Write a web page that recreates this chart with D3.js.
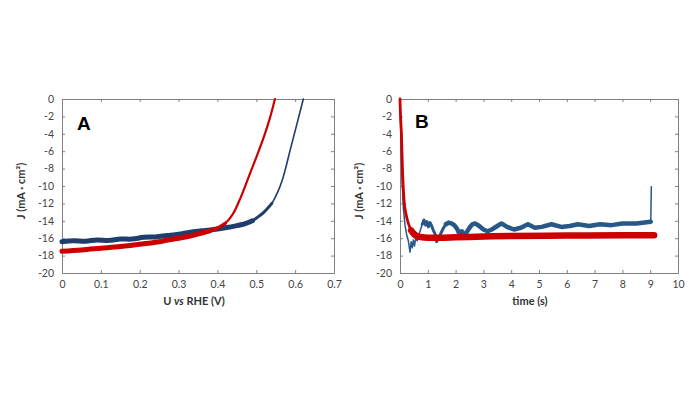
<!DOCTYPE html>
<html>
<head>
<meta charset="utf-8">
<script src="https://cdn.jsdelivr.net/npm/d3@7"></script>
<style>
  body { margin: 0; background: #fff; }
  svg { display: block; font-family: Lato, 'Liberation Sans', sans-serif; }
  .tick text { fill: #444; font-size: 10.5px; }
  .axis-title { font-weight: bold; font-size: 11px; fill: #333; }
  .panel-letter { font-weight: bold; font-size: 19px; font-family: 'Liberation Sans', Arial, sans-serif; }
</style>
</head>
<body>
<div id="chart"></div>
<script>
'use strict';

// panel A: J-V curves
var voltBlueA = [0, 0.03, 0.06, 0.09, 0.12, 0.15, 0.18, 0.21, 0.24, 0.27, 0.30, 0.33, 0.36, 0.39, 0.42, 0.45, 0.47, 0.49, 0.50, 0.52, 0.54, 0.555, 0.567, 0.577, 0.587, 0.598, 0.609, 0.621];
var jBlueA    = [-16.4, -16.3, -16.35, -16.2, -16.25, -16.1, -16.1, -15.9, -15.85, -15.7, -15.55, -15.3, -15.15, -15.0, -14.8, -14.55, -14.35, -14.0, -13.7, -13.0, -12.0, -10.7, -9.3, -7.7, -5.9, -4.0, -2.1, 0];
var voltRedA  = [0, 0.05, 0.10, 0.15, 0.20, 0.25, 0.30, 0.33, 0.36, 0.38, 0.40, 0.42, 0.44, 0.46, 0.48, 0.50, 0.52, 0.535, 0.548];
var jRedA     = [-17.5, -17.35, -17.15, -16.95, -16.7, -16.4, -16.0, -15.75, -15.4, -15.15, -14.85, -14.3, -13.2, -11.3, -9.0, -6.7, -4.3, -2.2, 0];

// panel B: chronoamperometry
var timeBlueB = [0, 0.03, 0.07, 0.12, 0.18, 0.24, 0.3, 0.36, 0.4, 0.44, 0.48, 0.52, 0.56, 0.62, 0.68, 0.74, 0.8, 0.86, 0.92, 0.97, 1.02, 1.08, 1.14, 1.2, 1.26, 1.32, 1.38, 1.45, 1.55, 1.65, 1.75, 1.85, 1.95, 2.05, 2.15, 2.22, 2.3, 2.4, 2.5, 2.6, 2.7, 2.85, 3.0, 3.15, 3.3, 3.5, 3.65, 3.85, 4.1, 4.35, 4.6, 4.85, 5.1, 5.45, 5.8, 6.1, 6.4, 6.8, 7.2, 7.6, 8.0, 8.5, 9.02, 9.04];
var jBlueB    = [0, -4, -9, -12.5, -14.5, -15.6, -16.3, -17.6, -16.4, -17.1, -16.2, -16.9, -16.1, -16.3, -15.6, -15.0, -14.4, -13.9, -14.5, -14.1, -14.7, -14.2, -14.6, -15.1, -15.5, -16.4, -16.0, -15.6, -14.9, -14.4, -14.2, -14.3, -14.5, -14.9, -15.6, -15.2, -15.6, -15.3, -14.8, -14.4, -14.3, -14.6, -15.0, -15.2, -15.0, -14.6, -14.3, -14.7, -15.0, -14.8, -14.4, -14.8, -14.7, -14.4, -14.7, -14.6, -14.4, -14.6, -14.4, -14.5, -14.3, -14.3, -14.1, -10.1];
var timeRedB  = [0, 0.02, 0.05, 0.1, 0.15, 0.2, 0.3, 0.4, 0.5, 0.6, 0.8, 1.0, 2.0, 3.0, 4.0, 6.0, 8.0, 9.14];
var jRedB     = [0, -2, -4, -9, -11.8, -13, -14.3, -15.1, -15.5, -15.75, -15.9, -15.95, -15.9, -15.8, -15.75, -15.7, -15.65, -15.65];

var yTicks = d3.range(-20, 1, 2);
var xTicksA = [0, 0.1, 0.2, 0.3, 0.4, 0.5, 0.6, 0.7];
var xTicksB = d3.range(0, 11, 1);

var blueA = '#1f3d6d', blueB = '#285888', red = '#cc0000', frame = '#808080';

var svg = d3.select('#chart').append('svg')
    .attr('width', 700)
    .attr('height', 394);

svg.append('rect').attr('width', 700).attr('height', 394).attr('fill', '#fff');

function toPoints(xs, ys) {
  return xs.map(function(v, i) { return {x: v, y: ys[i]}; });
}

function drawPanel(opt) {
  var x = d3.scaleLinear().domain(opt.xDomain).range([opt.left, opt.right]);
  var y = d3.scaleLinear().domain([-20, 0]).range([273, 99]);

  // frame with inner ticks on all four sides
  var axes = [
    {gen: d3.axisLeft(y).tickValues(yTicks).tickFormat(function(d) { return String(d); }), tr: 'translate(' + opt.left + ',0)'},
    {gen: d3.axisRight(y).tickValues(yTicks).tickFormat(''), tr: 'translate(' + opt.right + ',0)'},
    {gen: d3.axisBottom(x).tickValues(opt.xTicks).tickFormat(function(d) { return String(d); }), tr: 'translate(0,273)'},
    {gen: d3.axisTop(x).tickValues(opt.xTicks).tickFormat(''), tr: 'translate(0,99)'}
  ];
  axes.forEach(function(a) {
    var g = svg.append('g')
        .attr('transform', a.tr)
        .call(a.gen.tickSizeInner(-3).tickSizeOuter(0).tickPadding(8));
    g.select('.domain').attr('stroke', frame);
    g.selectAll('.tick line').attr('stroke', frame);
    g.selectAll('.tick text').attr('font-family', 'Lato, sans-serif');
  });

  opt.series.forEach(function(s) {
    var line = d3.line()
        .x(function(d) { return x(d.x); })
        .y(function(d) { return y(d.y); })
        .curve(s.curve);
    var pts = toPoints(s.xs, s.ys);
    // thin trace over the whole range, thicker where the samples are dense
    s.layers.forEach(function(l) {
      svg.append('path')
          .datum(pts.filter(l.keep))
          .attr('fill', 'none')
          .attr('stroke', s.color)
          .attr('stroke-width', l.width)
          .attr('stroke-linejoin', 'round')
          .attr('stroke-linecap', 'round')
          .attr('d', line);
    });
  });

  // panel letter
  svg.append('text')
      .attr('class', 'panel-letter')
      .attr('x', opt.left + opt.letterDx)
      .attr('y', opt.letterY)
      .text(opt.letter);

  // x axis title
  svg.append('text')
      .attr('class', 'axis-title')
      .attr('x', opt.titleX)
      .attr('y', 305)
      .attr('text-anchor', 'middle')
      .html(opt.xTitle);

  // y axis title
  svg.append('text')
      .attr('class', 'axis-title')
      .attr('transform', 'translate(' + (opt.left - 37) + ',191) rotate(-90)')
      .attr('text-anchor', 'middle')
      .html('J (mA · cm²)');
}

function all() { return true; }
var smooth = d3.curveCatmullRom.alpha(0.5);

drawPanel({
  xDomain: [0, 0.7], left: 62, right: 334, xTicks: xTicksA,
  letter: 'A', letterDx: 15, letterY: 130,
  titleX: 194, xTitle: 'U <tspan font-style="italic">vs</tspan> RHE (V)',
  series: [
    {xs: voltBlueA, ys: jBlueA, color: blueA, curve: smooth, layers: [
      {width: 1.6, keep: all},
      {width: 3, keep: function(d) { return d.y <= -12; }},
      {width: 5, keep: function(d) { return d.y <= -13.8; }}
    ]},
    {xs: voltRedA, ys: jRedA, color: red, curve: smooth, layers: [
      {width: 2.2, keep: all},
      {width: 3.5, keep: function(d) { return d.y <= -13.5; }},
      {width: 5, keep: function(d) { return d.y <= -15; }}
    ]}
  ]
});

drawPanel({
  xDomain: [0, 10], left: 400, right: 678, xTicks: xTicksB,
  letter: 'B', letterDx: 15, letterY: 128,
  titleX: 530, xTitle: 'time (s)',
  series: [
    {xs: timeBlueB, ys: jBlueB, color: blueB, curve: d3.curveLinear, layers: [
      {width: 1.5, keep: all},
      {width: 3, keep: function(d) { return d.x >= 0.75 && d.x <= 9.02; }},
      {width: 4.5, keep: function(d) { return d.x >= 1.6 && d.x <= 9.02; }}
    ]},
    {xs: timeRedB, ys: jRedB, color: red, curve: smooth, layers: [
      {width: 2.8, keep: all},
      {width: 6.5, keep: function(d) { return d.x >= 0.4; }}
    ]}
  ]
});
</script>
</body>
</html>
